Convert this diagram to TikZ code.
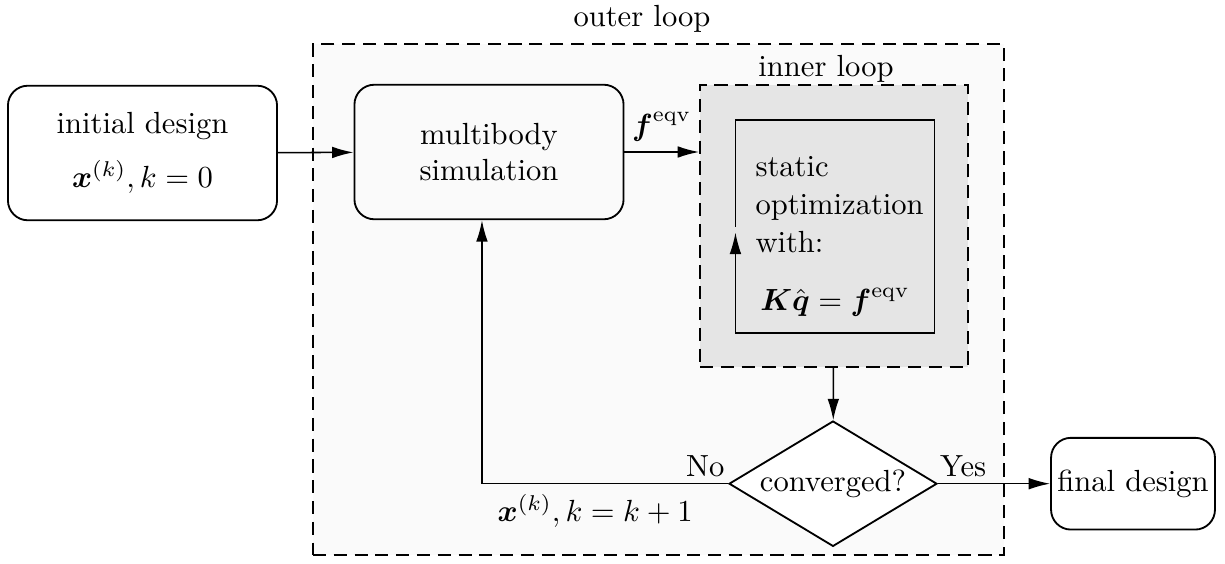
\documentclass[tikz,border=0pt]{standalone}
\usepackage{amsmath}
\usetikzlibrary{shapes.geometric, arrows.meta, positioning}
\definecolor{outerfill}{HTML}{FAFAFA}
\definecolor{innerfill}{HTML}{E5E5E5}
\tikzstyle{process} = [rectangle, rounded corners=6.5pt, minimum width=88pt, minimum height=44pt, text centered, draw=black, semithick, align=center]
\tikzstyle{decision} = [diamond, shape aspect=1.66, minimum width=68pt, minimum height=41pt, inner sep=0pt, text centered, draw=black, semithick, fill=white]
\tikzstyle{arrow} = [line width=0.5pt, -{Latex[length=7pt, width=3.8pt]}]
\tikzstyle{loopbox} = [rectangle, draw=black, semithick, dash pattern=on 4.3pt off 2.5pt]

\begin{document}
\begin{tikzpicture}[x=0.327pt, y=-0.327pt]
    \useasboundingbox (0,0) rectangle (1225,563);

    \node (outer) [loopbox, fill=outerfill, minimum width=226pt, minimum height=167pt, label={[xshift=-5.4pt]above:outer loop}] at (658.5,299.5) {};

    \node (init) [process] at (142.5,153) {initial design\\[5.5pt]
    $\boldsymbol{x}^{(k)}, k=0$};

    \node (sim) [process] at (489,152) {multibody\\simulation};

    \node (inner) [loopbox, fill=innerfill, minimum width=87.6pt, minimum height=92.2pt, label={[xshift=-2.6pt, yshift=-3pt]above:inner loop}] at (834,226) {};

    \node (opt) [rectangle, minimum width=64.7pt, minimum height=69.3pt, text width=52pt, inner sep=0pt, align=left] at (835,226.5) {\rule{0pt}{13pt}static\\[0.5pt]
    optimization\\[0.5pt]
    with:\\[7pt]
    \makebox[\linewidth]{$\boldsymbol{K}\hat{\boldsymbol{q}}=\boldsymbol{f}^{\mathrm{eqv}}$}};

    \node (conv) [decision] at (833,483.7) {converged?};

    \node (final) [process, minimum width=53.6pt, minimum height=30pt, inner sep=1pt] at (1133,483.7) {final design};

    \draw [arrow] (init)--(sim);
    \draw [arrow] (sim)--(sim -| inner.west) node[midway, above]{$\boldsymbol{f}^{\mathrm{eqv}}$};
    \draw [arrow, line width=0.4pt, shorten >=2pt] (opt.west)--(opt.north west)--(opt.north east)--(opt.south east)--(opt.south west)--(opt.west);
    \draw [arrow] (inner)--(conv);
    \draw [arrow] (conv.east) node[above right, inner xsep=0.5pt, inner ysep=2pt]{Yes}--(final);
    \draw [arrow] (conv.west) node[above left, inner xsep=1pt, inner ysep=2pt]{No} -| node[pos=0.27, below]{$\boldsymbol{x}^{(k)}, k=k+1$} ([xshift=-2.3pt]sim.south);

\end{tikzpicture}
\end{document}
